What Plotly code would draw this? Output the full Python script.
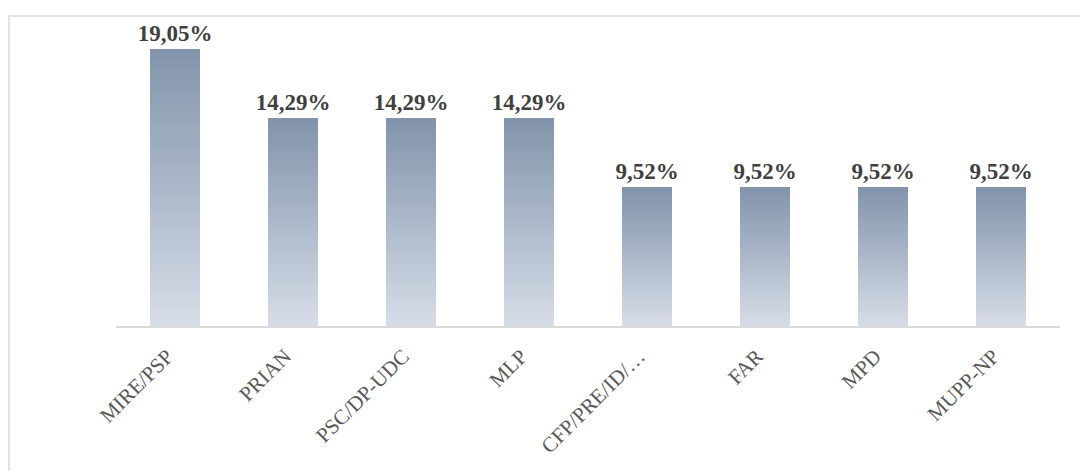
import plotly.graph_objects as go

categories = ["MIRE/PSP", "PRIAN", "PSC/DP-UDC", "MLP", "CFP/PRE/ID/…", "FAR", "MPD", "MUPP-NP"]
values = [19.05, 14.29, 14.29, 14.29, 9.52, 9.52, 9.52, 9.52]
labels = ["19,05%", "14,29%", "14,29%", "14,29%", "9,52%", "9,52%", "9,52%", "9,52%"]

# the page body has an 8px default margin, so the figure is offset by 8px
OFF = 8
W, H = 1088 - OFF, 471 - OFF
ML, MR, MT, MB = 116 - OFF, 28, 35 - OFF, 145
y_max = 20.0

top_rgb = (130, 148, 172)
bot_rgb = (214, 220, 231)
N = 60

fig = go.Figure()
for i in range(N):
    t = i / (N - 1)
    c = tuple(round(bot_rgb[k] + (top_rgb[k] - bot_rgb[k]) * t) for k in range(3))
    is_top = i == N - 1
    fig.add_trace(go.Bar(
        x=categories,
        y=[v / N for v in values],
        marker=dict(color="rgb(%d,%d,%d)" % c, line=dict(width=0)),
        width=0.43,
        text=labels if is_top else None,
        textposition="outside" if is_top else "none",
        textfont=dict(family="Liberation Serif", size=23, color="#404040", weight="bold"),
        cliponaxis=False,
        hoverinfo="skip",
        showlegend=False,
    ))

fig.update_layout(
    barmode="stack",
    bargap=0,
    width=W, height=H,
    margin=dict(l=ML, r=MR, t=MT, b=MB, pad=0),
    paper_bgcolor="white",
    plot_bgcolor="white",
    xaxis=dict(
        type="category",
        showline=True, linecolor="#d9d9d9", linewidth=1.5,
        showgrid=False, ticks="",
        tickangle=-45,
        ticklabelstandoff=8,
        ticklabelshift=-8,
        tickfont=dict(family="Liberation Serif", size=21, color="#595959"),
        fixedrange=True,
    ),
    yaxis=dict(range=[0, y_max], visible=False, showgrid=False, fixedrange=True),
)
fig.update_traces(constraintext="none")

pw = W - ML - MR
ph = H - MT - MB
x0 = (9 - OFF - ML) / pw
y1 = (H - MB - (16 - OFF)) / ph
fig.add_shape(type="rect", xref="paper", yref="paper",
              x0=x0, x1=1.2, y0=-0.8, y1=y1,
              line=dict(color="#d9d9d9", width=1.5), fillcolor="rgba(0,0,0,0)", layer="below")

fig.write_html("out.html")
